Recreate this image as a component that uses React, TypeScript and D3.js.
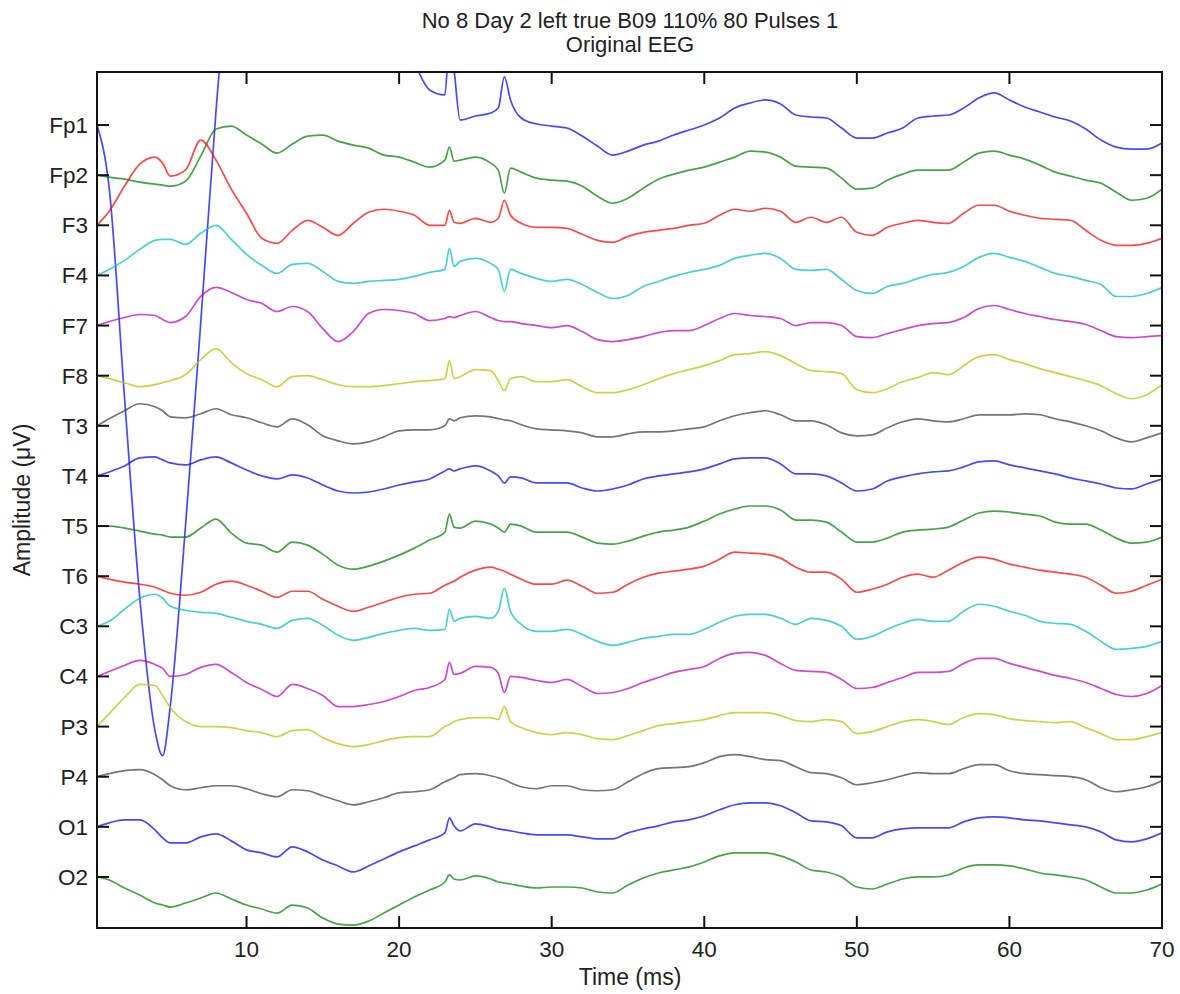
import React from "react";
import * as d3 from "d3";

// sample times (ms), denser around the stimulus artefacts
const times = [
  0.2, 1, 2, 3, 4, 4.5, 5, 6, 7, 8, 9, 10, 11, 12, 13, 14, 15, 16, 17, 18, 19, 20, 21, 22, 23,
  23.3, 23.6, 24, 25, 26, 26.5, 26.9, 27.3,
  28, 29, 30, 31, 32, 33, 34, 35, 36, 37, 38, 39, 40, 41, 42, 43, 44, 45, 46, 47, 48, 49,
  50, 51, 52, 53, 54, 55, 56, 57, 58, 59, 60, 61, 62, 63, 64, 65, 66, 67, 68, 69, 70,
];

const channels = ["Fp1", "Fp2", "F3", "F4", "F7", "F8", "T3", "T4", "T5", "T6", "C3", "C4", "P3", "P4", "O1", "O2"];

// amplitudes (uV) relative to each channel's first sample
const fp1 = [0, -63, -271, -471, -604, -629, -580, -400, -197, 14, 185, 275, 325, 345, 345, 325, 295, 265, 235, 195, 155, 105, 63, 35, 30,
  85, 55, 5, 9, 12, 17, 48, 25,
  7, 1, -1, -3, -11, -21, -30, -26, -20, -16, -10, -5, 0, 7, 17, 22, 25, 21, 10, 8, 7, -3, -13, -13, -8, -3, 7, 9, 10, 17, 27, 32, 25, 18, 13, 8, 4, -4, -15, -22, -24, -24, -18];
const fp2 = [0, -2, -4, -7, -9, -10, -11, -6, 19, 46, 49, 40, 31, 22, 31, 39, 40, 34, 30, 27, 20, 18, 13, 8, 15,
  28, 14, 15, 18, 12, 5, -18, 7,
  3, -3, -5, -6, -11, -21, -28, -23, -13, -4, 1, 5, 8, 13, 18, 24, 23, 18, 9, 8, 7, -3, -14, -13, -5, 1, 5, 5, 5, 13, 22, 24, 20, 16, 10, 3, -1, -5, -8, -17, -25, -23, -14];
const f3 = [0, 14, 39, 61, 68, 62, 49, 55, 85, 65, 36, 12, -13, -18, -5, 5, -2, -10, 2, 13, 16, 14, 10, 0, 0,
  15, 3, 2, 7, 3, 7, 25, 10,
  2, -2, -2, -3, -9, -15, -17, -11, -7, -5, -3, 0, 2, 10, 16, 14, 17, 14, 3, 8, 3, 8, -7, -10, -2, 2, 5, 3, 2, 12, 20, 20, 14, 10, 7, 6, 5, -5, -15, -20, -20, -18, -13];
const f4 = [0, 6, 15, 26, 35, 36, 36, 31, 42, 50, 36, 21, 10, 2, 11, 12, 4, -6, -8, -6, -5, -4, -1, 3, 6,
  27, 9, 14, 17, 12, 6, -16, 6,
  2, -3, -6, -4, -9, -17, -23, -20, -11, -6, -1, 3, 6, 10, 17, 20, 22, 17, 6, 5, 6, -4, -15, -18, -11, -8, -3, 1, 3, 9, 18, 22, 18, 14, 8, 2, -1, -5, -9, -21, -21, -18, -12];
const f7 = [0, 4, 8, 11, 10, 6, 3, 9, 29, 38, 33, 26, 22, 14, 19, 14, -3, -16, -6, 12, 16, 15, 12, 5, 7,
  9, 8, 10, 14, 8, 5, 4, 4,
  2, 0, -2, 0, -6, -14, -16, -14, -11, -7, -5, -5, 0, 7, 12, 10, 9, 7, 0, 3, 3, 0, -11, -12, -8, -4, 0, 2, 3, 8, 17, 20, 16, 12, 9, 6, 4, 1, -5, -11, -12, -11, -10];
const f8 = [0, -3, -7, -11, -9, -7, -5, 1, 16, 27, 13, 2, -4, -11, -1, 0, -4, -9, -11, -11, -10, -8, -6, -5, -3,
  15, -3, -1, 6, 5, -5, -15, -3,
  -1, -6, -6, -4, -11, -17, -17, -14, -9, -3, 2, 6, 10, 15, 21, 22, 24, 20, 12, 5, 4, 2, -14, -17, -13, -6, -2, 3, 1, 10, 19, 21, 16, 12, 7, 3, -1, -5, -10, -18, -23, -19, -9];
const t3 = [0, 7, 15, 22, 19, 15, 9, 8, 12, 17, 11, 8, 3, -1, 7, 1, -10, -15, -18, -16, -11, -5, -4, -4, 0,
  7, 5, 8, 10, 9, 7, 6, 5,
  1, -3, -4, -5, -7, -11, -11, -8, -6, -6, -5, -3, -1, 5, 10, 13, 15, 11, 5, 5, 1, -7, -10, -9, -2, 4, 7, 5, 4, 7, 11, 11, 11, 12, 11, 7, 4, 0, -5, -12, -16, -12, -7];
const t4 = [0, 4, 10, 18, 19, 16, 13, 11, 16, 19, 13, 6, 0, -3, 1, -2, -9, -15, -17, -16, -13, -9, -6, -3, 5,
  7, 5, 7, 10, 5, 0, -7, -1,
  -2, -7, -7, -7, -12, -15, -13, -9, -3, 0, 2, 4, 7, 12, 17, 18, 18, 12, 2, 2, 0, -7, -15, -13, -5, -1, 2, 4, 5, 9, 14, 15, 11, 8, 5, 2, -2, -5, -8, -12, -13, -8, -3];
const t5 = [0, 0, -2, -5, -8, -9, -11, -11, -2, 7, -7, -17, -19, -26, -16, -19, -28, -39, -43, -40, -35, -29, -22, -14, -6,
  12, -1, -2, 5, 2, -2, -6, 2,
  0, -6, -6, -6, -11, -17, -18, -15, -10, -6, -4, -1, 5, 12, 17, 20, 20, 16, 6, 6, 4, -6, -16, -16, -12, -6, -4, -3, -1, 6, 13, 15, 14, 12, 10, 4, 2, 2, -4, -12, -17, -16, -11];
const t6 = [0, -3, -6, -8, -11, -14, -17, -19, -16, -8, -5, -9, -15, -21, -15, -15, -23, -30, -35, -31, -26, -21, -18, -17, -9,
  -7, -5, -1, 6, 9, 7, 5, 2,
  -3, -8, -8, -4, -10, -17, -16, -8, -1, 3, 5, 7, 10, 17, 24, 23, 22, 18, 9, 4, 4, -3, -16, -13, -8, -1, 2, -1, 6, 14, 19, 17, 12, 9, 6, 4, 2, -1, -9, -17, -15, -9, -3];
const c3 = [0, 5, 17, 28, 32, 28, 20, 16, 14, 13, 9, 5, 2, -2, 6, 8, 1, -9, -14, -11, -7, -4, -2, -4, -3,
  17, 5, 8, 10, 8, 15, 38, 15,
  2, -5, -5, -3, -8, -15, -19, -16, -12, -10, -8, -8, -3, 4, 10, 12, 12, 8, 2, 8, 6, 0, -13, -10, -3, 3, 7, 5, 5, 15, 22, 20, 15, 11, 5, 3, 2, -5, -15, -23, -22, -20, -15];
const c4 = [0, 5, 11, 16, 12, 8, 0, 2, 9, 12, 4, -6, -13, -20, -8, -12, -19, -30, -30, -28, -25, -20, -14, -11, -3,
  14, 2, 3, 10, 9, 3, -16, 0,
  -1, -4, -6, -3, -10, -17, -16, -12, -6, -1, 4, 7, 10, 18, 23, 24, 21, 13, 6, 5, 4, -3, -12, -11, -6, -1, 4, 4, 5, 13, 18, 18, 13, 9, 5, 1, -2, -6, -12, -18, -20, -17, -9];
const p3 = [0, 13, 29, 42, 41, 31, 19, 5, 0, 0, -1, -4, -6, -10, -4, -3, -11, -17, -20, -18, -14, -11, -10, -10, 0,
  2, 5, 7, 9, 9, 7, 20, 5,
  -1, -6, -8, -6, -8, -12, -13, -9, -4, 1, 3, 5, 7, 11, 14, 14, 14, 11, 6, 5, 7, 5, -7, -5, 0, 5, 7, 5, 2, 9, 13, 12, 8, 6, 5, 4, 5, -1, -7, -13, -13, -10, -6];
const p4 = [0, 3, 6, 7, 2, -3, -9, -13, -11, -9, -9, -12, -17, -20, -13, -14, -19, -24, -28, -25, -21, -16, -15, -13, -5,
  -3, -1, 2, 3, 1, -1, -3, -6,
  -10, -12, -9, -9, -13, -14, -13, -5, 3, 8, 9, 10, 14, 20, 22, 20, 17, 16, 10, 4, 3, -1, -8, -6, -3, 1, 4, 3, 3, 8, 12, 12, 6, 3, 2, 1, 0, -3, -11, -15, -13, -10, -4];
const o1 = [0, 4, 7, 7, -3, -11, -16, -16, -10, -7, -14, -23, -26, -30, -20, -25, -33, -39, -45, -39, -32, -25, -19, -13, -6,
  9, 1, -4, 3, 0, -2, -3, -4,
  -6, -8, -8, -8, -10, -12, -12, -6, -2, 1, 5, 7, 11, 17, 22, 24, 24, 21, 14, 6, 5, 1, -11, -11, -5, -2, -1, -1, -1, 5, 9, 10, 9, 7, 6, 4, 2, 0, -5, -13, -15, -12, -6];
const o2 = [0, -3, -11, -18, -26, -28, -30, -26, -21, -16, -22, -28, -32, -36, -28, -31, -41, -47, -48, -44, -36, -28, -20, -13, -5,
  2, -2, -3, 1, -2, -5, -6, -7,
  -9, -11, -10, -10, -11, -15, -16, -8, -1, 4, 7, 10, 15, 21, 24, 24, 24, 21, 15, 7, 5, 0, -10, -12, -7, -2, 0, 0, 2, 9, 12, 12, 11, 8, 4, 2, 0, -3, -10, -16, -16, -13, -7];

const series = [fp1, fp2, f3, f4, f7, f8, t3, t4, t5, t6, c3, c4, p3, p4, o1, o2];

// MATLAB's old colour order
const colors = ["#0000ff", "#008000", "#ff0000", "#00bfbf", "#bf00bf", "#bfbf00", "#404040"];
const xTicks = [10, 20, 30, 40, 50, 60, 70];
const spacing = 50; // uV between channel baselines

const W = 1180;
const H = 994;
const left = 97;
const right = 1162;
const top = 72;
const bottom = 928;
const font = "'Liberation Sans', Arial, Helvetica, sans-serif";

export default function App() {
  const x = d3.scaleLinear().domain([0.2, 70]).range([left, right]);
  const y = d3
    .scaleLinear()
    .domain([52.9, -spacing * 15 - 50.9])
    .range([top, bottom]);

  const line = (vals: number[], i: number) =>
    d3
      .line<number>()
      .curve(d3.curveMonotoneX)
      .x((_, k) => x(times[k]))
      .y((v) => y(v - spacing * i))(vals.slice(0, times.length)) || "";

  const tickLen = 12;

  return (
    <svg
      width={W}
      height={H}
      style={{ position: "absolute", left: 0, top: 0, background: "#fff" }}
      fontFamily={font}
    >
      <defs>
        <clipPath id="plot">
          <rect x={left} y={top} width={right - left} height={bottom - top} />
        </clipPath>
      </defs>

      {/* title */}
      <text x={630} y={28} textAnchor="middle" fontSize={22} fill="#222">
        No 8 Day 2 left true B09 110% 80 Pulses 1
      </text>
      <text x={630} y={52} textAnchor="middle" fontSize={22} fill="#222">
        Original EEG
      </text>

      {/* traces */}
      <g clipPath="url(#plot)">
        {series.map((vals, i) => (
          <path
            key={channels[i]}
            d={line(vals, i)}
            fill="none"
            stroke={colors[i % colors.length]}
            strokeOpacity={0.72}
            strokeWidth={1.7}
            strokeLinejoin="round"
          />
        ))}
      </g>

      {/* box */}
      <rect x={left} y={top} width={right - left} height={bottom - top} fill="none" stroke="#111" strokeWidth={2} />

      {/* x ticks, bottom and top */}
      {xTicks.map((t) => (
        <g key={t}>
          <line x1={x(t)} x2={x(t)} y1={bottom} y2={bottom - tickLen} stroke="#111" strokeWidth={2} />
          <line x1={x(t)} x2={x(t)} y1={top} y2={top + tickLen} stroke="#111" strokeWidth={2} />
          <text x={x(t)} y={957} textAnchor="middle" fontSize={22.5} fill="#222">
            {t}
          </text>
        </g>
      ))}

      {/* y ticks, left and right */}
      {channels.map((c, i) => {
        const yy = y(-spacing * i);
        return (
          <g key={c}>
            <line x1={left} x2={left + tickLen} y1={yy} y2={yy} stroke="#111" strokeWidth={2} />
            <line x1={right} x2={right - tickLen} y1={yy} y2={yy} stroke="#111" strokeWidth={2} />
            <text x={88} y={yy + 8} textAnchor="end" fontSize={22.5} fill="#222">
              {c}
            </text>
          </g>
        );
      })}

      {/* axis labels */}
      <text x={630} y={985} textAnchor="middle" fontSize={23} fill="#222">
        Time (ms)
      </text>
      <text
        transform={`translate(30, 500) rotate(-90)`}
        textAnchor="middle"
        fontSize={23}
        fill="#222"
      >
        Amplitude (μV)
      </text>
    </svg>
  );
}
